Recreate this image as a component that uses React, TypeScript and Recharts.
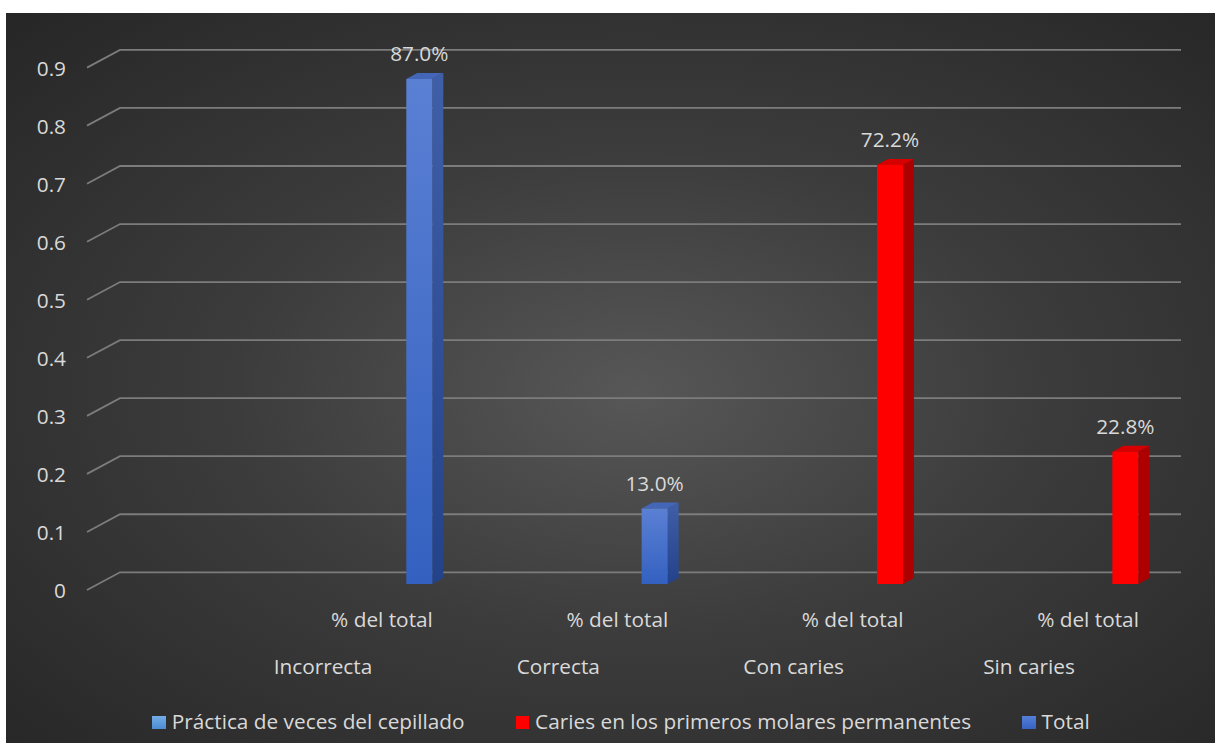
import React from 'react';
import { BarChart, Bar, XAxis, YAxis, CartesianGrid, Legend, LabelList } from 'recharts';

// categories and values
const categories = ['Incorrecta', 'Correcta', 'Con caries', 'Sin caries'];
const subLabels = ['% del total', '% del total', '% del total', '% del total'];
const practicaValues: (number | null)[] = [null, null, null, null];
const cariesValues: (number | null)[] = [null, null, 0.722, 0.228];
const totalValues: (number | null)[] = [0.87, 0.13, null, null];
const yTicks = [0, 0.1, 0.2, 0.3, 0.4, 0.5, 0.6, 0.7, 0.8, 0.9];
const yTickLabels = ['0', '0.1', '0.2', '0.3', '0.4', '0.5', '0.6', '0.7', '0.8', '0.9'];

const data = categories.map((name, i) => ({
  name,
  sub: subLabels[i],
  practica: practicaValues[i],
  caries: cariesValues[i],
  total: totalValues[i],
}));

const FONT = '"Open Sans", "Noto Sans", sans-serif';
const TEXT = '#d9d9d9';
const FS = 20.8;
const DEPTH_X = 11;
const DEPTH_Y = 6;

const Box3D = (props: any) => {
  const { x, y, width, height, front, side, top } = props;
  if (height == null || height <= 0.5 || x == null) return null;
  const r = x + width;
  return (
    <g>
      <polygon
        points={`${x},${y} ${x + DEPTH_X},${y - DEPTH_Y} ${r + DEPTH_X},${y - DEPTH_Y} ${r},${y}`}
        fill={top}
      />
      <polygon
        points={`${r},${y} ${r + DEPTH_X},${y - DEPTH_Y} ${r + DEPTH_X},${y + height - DEPTH_Y} ${r},${y + height}`}
        fill={side}
      />
      <rect x={x} y={y} width={width} height={height} fill={front} />
    </g>
  );
};

const ValueLabel = (props: any) => {
  const { x, y, width, value } = props;
  if (value == null) return null;
  return (
    <text
      x={x + width / 2}
      y={y - 18}
      textAnchor="middle"
      fill={TEXT}
      fontSize={FS}
      fontFamily={FONT}
    >
      {(value * 100).toFixed(1) + '%'}
    </text>
  );
};

const GridLine = (props: any) => {
  const { x1, x2, y1, index } = props;
  return (
    <path
      key={index}
      d={`M${x1},${y1 + 6} L${x1 + 33},${y1 - 11.7} L${x2},${y1 - 11.7}`}
      stroke="#7c7c7c"
      strokeWidth={1.8}
      fill="none"
    />
  );
};

const YTick = (props: any) => {
  const { x, y, payload, index } = props;
  return (
    <text x={x} y={y + 6} textAnchor="end" dominantBaseline="central" fill={TEXT} fontSize={FS} fontFamily={FONT}>
      {yTickLabels[index] ?? String(payload.value)}
    </text>
  );
};

const XTick = (props: any) => {
  const { x, y, index } = props;
  const d = data[index];
  if (!d) return null;
  return (
    <g>
      <text x={x - 37} y={y + 43} textAnchor="middle" fill={TEXT} fontSize={FS} fontFamily={FONT}>
        {d.sub}
      </text>
      <text x={x - 96} y={y + 90} textAnchor="middle" fill={TEXT} fontSize={FS} fontFamily={FONT}>
        {d.name}
      </text>
    </g>
  );
};

const legendItems = [
  { name: 'Práctica de veces del cepillado', color: 'linear-gradient(#73ade6, #4a8bd2)' },
  { name: 'Caries en los primeros molares permanentes', color: '#ff0000' },
  { name: 'Total', color: 'linear-gradient(#5480d8, #3762c2)' },
];

const LegendContent = () => (
  <div
    style={{
      display: 'flex',
      justifyContent: 'center',
      alignItems: 'center',
      width: 1215,
      height: 30,
      paddingLeft: 27,
      boxSizing: 'border-box',
      fontFamily: FONT,
      fontSize: FS,
      color: TEXT,
      lineHeight: '30px',
    }}
  >
    {legendItems.map((item, i) => (
      <div key={item.name} style={{ display: 'flex', alignItems: 'center', marginLeft: i === 0 ? 0 : 51 }}>
        <span
          style={{
            display: 'inline-block',
            width: 13.5,
            height: 13.5,
            background: item.color,
            marginRight: 6,
            marginTop: 3,
          }}
        />
        <span style={{ whiteSpace: 'nowrap' }}>{item.name}</span>
      </div>
    ))}
  </div>
);

export default function App() {
  return (
    <div style={{ position: 'absolute', left: 0, top: 0, width: 1215, height: 756, background: '#ffffff', overflow: 'hidden' }}>
      <div
        style={{
          position: 'absolute',
          left: 6,
          top: 13,
          width: 1209,
          height: 730,
          background: 'radial-gradient(ellipse farthest-corner at 52% 52%, #575757 0%, #3c3c3c 45%, #262626 100%)',
        }}
      />
      <div style={{ position: 'absolute', left: 0, top: 0 }}>
        <BarChart
          width={1215}
          height={756}
          data={data}
          margin={{ top: 61.6, right: 34, left: 0, bottom: 112 }}
        >
          <defs>
            <linearGradient id="blueFront" x1="0" y1="0" x2="0" y2="1">
              <stop offset="0%" stopColor="#5a80d4" />
              <stop offset="100%" stopColor="#3461c0" />
            </linearGradient>
            <linearGradient id="blueSide" x1="0" y1="0" x2="0" y2="1">
              <stop offset="0%" stopColor="#3f5fa8" />
              <stop offset="100%" stopColor="#23428a" />
            </linearGradient>
          </defs>
          <CartesianGrid vertical={false} horizontal={GridLine} />
          <XAxis
            dataKey="name"
            interval={0}
            axisLine={false}
            tickLine={false}
            tickSize={0}
            tickMargin={0}
            height={30}
            padding={{ left: 214.3, right: -61.7 }}
            tick={<XTick />}
          />
          <YAxis
            domain={[0, 0.9]}
            ticks={yTicks}
            width={87}
            axisLine={false}
            tickLine={false}
            tickSize={0}
            tickMargin={21}
            tick={<YTick />}
          />
          <Legend
            verticalAlign="bottom"
            content={<LegendContent />}
            wrapperStyle={{ position: 'absolute', left: 0, top: 706, width: 1215, height: 30 }}
          />
          <Bar
            dataKey="practica"
            name="Práctica de veces del cepillado"
            stackId="a"
            barSize={26}
            fill="#5b9bd5"
            isAnimationActive={false}
            shape={(p: any) => <Box3D {...p} front="#5b9bd5" side="#3d75b0" top="#4c89c8" />}
          />
          <Bar
            dataKey="caries"
            name="Caries en los primeros molares permanentes"
            stackId="a"
            barSize={26}
            fill="#ff0000"
            isAnimationActive={false}
            shape={(p: any) => <Box3D {...p} front="#ff0000" side="#ad0000" top="#d60000" />}
          >
            <LabelList dataKey="caries" content={<ValueLabel />} />
          </Bar>
          <Bar
            dataKey="total"
            name="Total"
            stackId="a"
            barSize={26}
            fill="#4472c4"
            isAnimationActive={false}
            shape={(p: any) => <Box3D {...p} front="url(#blueFront)" side="url(#blueSide)" top="#4466b8" />}
          >
            <LabelList dataKey="total" content={<ValueLabel />} />
          </Bar>
        </BarChart>
      </div>
    </div>
  );
}
